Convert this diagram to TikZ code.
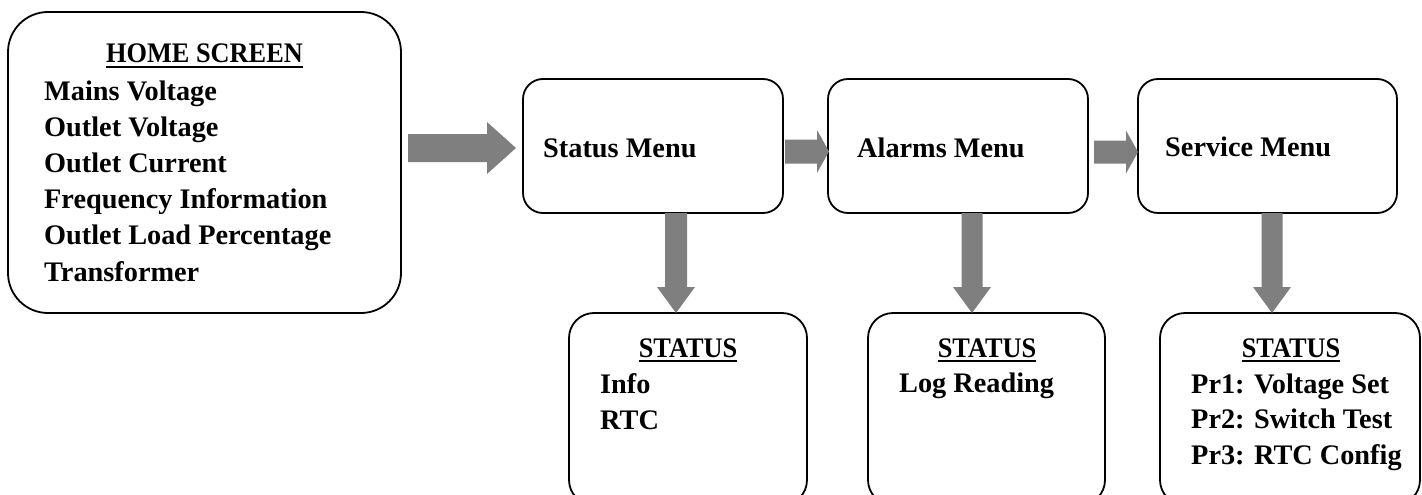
\documentclass[tikz,border=0pt]{standalone}
\usepackage{fontspec}
\setmainfont{Liberation Serif}
\usetikzlibrary{calc}
\definecolor{arrowgray}{RGB}{127,127,127}
\tikzset{
  box/.style={draw=black, line width=1.8pt, rounded corners=#1, inner sep=0pt, outer sep=0pt},
  txt/.style={inner sep=0pt, anchor=base west, font=\fontsize{28.3}{34}\selectfont\bfseries},
  hdr/.style={inner sep=0pt, anchor=base, font=\fontsize{28.3}{34}\selectfont\bfseries},
  uline/.style={line width=1.8pt},
  arrowfill/.style={fill=arrowgray}
}
% horizontal block arrow: #1 start (x used), #2 tip, #3 shaft half, #4 head half, #5 head length
\newcommand\hBlockArrow[5]{%
  \fill[arrowfill] let \p1=#1, \p2=#2 in
    (\x1,\y2-#3pt) -- (\x2-#5pt,\y2-#3pt) -- (\x2-#5pt,\y2-#4pt) -- (\x2,\y2)
    -- (\x2-#5pt,\y2+#4pt) -- (\x2-#5pt,\y2+#3pt) -- (\x1,\y2+#3pt) -- cycle;}
% vertical (downward) block arrow: #1 start (y used), #2 tip
\newcommand\vBlockArrow[5]{%
  \fill[arrowfill] let \p1=#1, \p2=#2 in
    (\x2-#3pt,\y1) -- (\x2-#3pt,\y2+#5pt) -- (\x2-#4pt,\y2+#5pt) -- (\x2,\y2)
    -- (\x2+#4pt,\y2+#5pt) -- (\x2+#3pt,\y2+#5pt) -- (\x2+#3pt,\y1) -- cycle;}
\newcommand\capsx[1]{\scalebox{0.93}[1]{#1}}
\begin{document}
\begin{tikzpicture}[x=1pt,y=-1pt]
\useasboundingbox (0,0) rectangle (1422,495);
\clip (0,0) rectangle (1422,495);
\fill[white] (0,0) rectangle (1422,495);

% boxes
\node[box=40pt, minimum width=393pt, minimum height=301pt] (home) at (204.5,162.5) {};
\node[box=20pt, minimum width=260pt, minimum height=134pt] (statusm) at (653,146) {};
\node[box=20pt, minimum width=260pt, minimum height=134pt] (alarmsm) at (958,146) {};
\node[box=20pt, minimum width=259pt, minimum height=134pt] (servicem) at (1267.5,146) {};
\node[box=25pt, minimum width=238pt, minimum height=192pt] (stbox) at (688,409) {};
\node[box=25pt, minimum width=237pt, minimum height=192pt] (logbox) at (986.5,409) {};
\node[box=25pt, minimum width=260pt, minimum height=192pt] (svbox) at (1290,409) {};

% home text
\node[hdr] (hhome) at (204.5,63) {\capsx{HOME SCREEN}};
\draw[uline] ($(hhome.base west)+(0,4)$) -- ($(hhome.base east)+(0,4)$);
\node[txt] (l1) at (44,100.5) {Mains Voltage};
\node[txt] (l2) at (44,136.6) {Outlet Voltage};
\node[txt] (l3) at (44,172.7) {Outlet Current};
\node[txt] (l4) at (44,208.8) {Frequency Information};
\node[txt] (l5) at (44,244.9) {Outlet Load Percentage};
\node[txt] (l6) at (44,281) {Transformer};

% menu texts
\node[txt] (tstatus) at (543,157) {Status Menu};
\node[txt] (talarms) at (857,157) {Alarms Menu};
\node[txt] (tservice) at (1165,156) {Service Menu};

% bottom boxes
\node[hdr] (h1) at (688,357) {\capsx{STATUS}};
\draw[uline] ($(h1.base west)+(0,4)$) -- ($(h1.base east)+(0,4)$);
\node[txt] (i1) at (600,393) {Info};
\node[txt] (i2) at (600,429) {RTC};

\node[hdr] (h2) at (987,357) {\capsx{STATUS}};
\draw[uline] ($(h2.base west)+(0,4)$) -- ($(h2.base east)+(0,4)$);
\node[txt] (g1) at (899,392) {Log Reading};

\node[hdr] (h3) at (1291,357) {\capsx{STATUS}};
\draw[uline] ($(h3.base west)+(0,4)$) -- ($(h3.base east)+(0,4)$);
\node[txt] (p1) at (1191,393) {Pr1: Voltage Set};
\node[txt] (p2) at (1191,428.5) {Pr2: Switch Test};
\node[txt] (p3) at (1191,464) {Pr3: RTC Config};

% connectors
\coordinate (a1s) at ($(home.east)+(7,0)$);
\coordinate (a1t) at ($(statusm.west)+(-7,2)$);
\hBlockArrow{(a1s)}{(a1t)}{14}{26}{29}
\coordinate (a2s) at ($(statusm.east)+(2,0)$);
\coordinate (a2t) at ($(alarmsm.west)+(1,5.5)$);
\hBlockArrow{(a2s)}{(a2t)}{12}{21.5}{12}
\coordinate (a3s) at ($(alarmsm.east)+(6,0)$);
\coordinate (a3t) at ($(servicem.west)+(0,6)$);
\hBlockArrow{(a3s)}{(a3t)}{11.5}{21.5}{12}

\coordinate (v1s) at (statusm.south);
\coordinate (v1t) at ($(stbox.north)+(-12,0)$);
\vBlockArrow{(v1s)}{(v1t)}{11}{19}{26}
\coordinate (v2s) at (alarmsm.south);
\coordinate (v2t) at ($(logbox.north)+(-14.5,0)$);
\vBlockArrow{(v2s)}{(v2t)}{10.5}{19}{26}
\coordinate (v3s) at (servicem.south);
\coordinate (v3t) at ($(svbox.north)+(-18,0)$);
\vBlockArrow{(v3s)}{(v3t)}{10.5}{19}{26}
\end{tikzpicture}
\end{document}
